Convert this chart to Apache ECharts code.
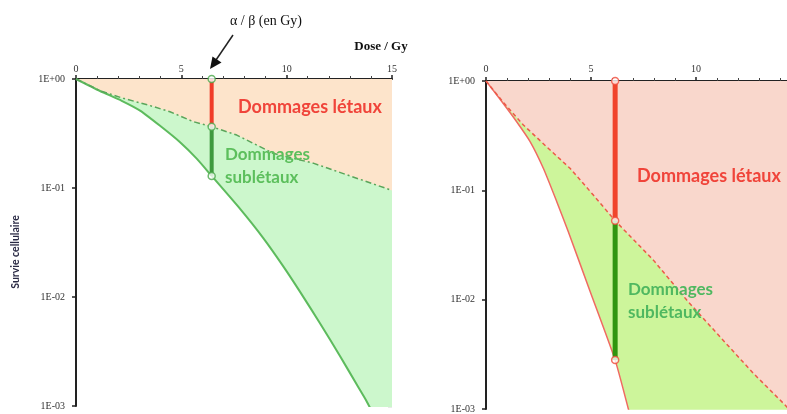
<!DOCTYPE html>
<html>
<head>
<meta charset="utf-8">
<script src="https://cdn.jsdelivr.net/npm/echarts@6/dist/echarts.min.js"></script>
<style>
  html, body { margin: 0; padding: 0; background: #fff; }
  #chart { width: 787px; height: 414px; }
</style>
</head>
<body>
<div id="chart"></div>
<script>
// Axis ticks
const xTickInterval = 5;
const yTickValues = [1, 0.1, 0.01, 0.001];
const yTickLabels = ['1E+00', '1E-01', '1E-02', '1E-03'];
const yMinorValues = [
  0.9, 0.8, 0.7, 0.6, 0.5, 0.4, 0.3, 0.2,
  0.09, 0.08, 0.07, 0.06, 0.05, 0.04, 0.03, 0.02,
  0.009, 0.008, 0.007, 0.006, 0.005, 0.004, 0.003, 0.002
];

// Left panel: linear (alpha) component and linear-quadratic survival
const doseA_alpha = [0, 1.14, 2.24, 3.43, 4.46, 5.57, 6.44, 7.63, 9.36, 11.26, 13.32, 15];
const survA_alpha = [1, 0.781, 0.665, 0.577, 0.501, 0.406, 0.365, 0.306, 0.208, 0.169, 0.123, 0.095];
const doseA_lq = [0, 1.14, 2.17, 3.04, 3.99, 4.94, 5.73, 6.44, 7.78, 8.89, 9.84, 10.63, 11.58, 12.53, 13.32, 13.80, 15];
const survA_lq = [1, 0.776, 0.631, 0.513, 0.372, 0.263, 0.186, 0.129, 0.0646, 0.0347, 0.0191, 0.0112, 0.00575, 0.00288, 0.00158, 0.0011, 0.0004];
// alpha/beta dose and the survival values marked on it
const doseA_ab = 6.44;
const survA_ab = [1, 0.365, 0.129];

// Right panel
const doseB_alpha = [0, 0.82, 1.78, 2.89, 4.00, 5.11, 6.15, 7.97, 9.56, 11.14, 12.73, 14.32, 15];
const survB_alpha = [1, 0.64, 0.396, 0.250, 0.159, 0.0906, 0.0527, 0.0230, 0.00991, 0.00458, 0.00212, 0.00105, 0.00074];
const doseB_lq = [0, 0.67, 1.46, 2.10, 2.73, 3.37, 3.92, 4.95, 6.15, 6.78, 7.5, 9, 15];
const survB_lq = [1, 0.68, 0.424, 0.279, 0.159, 0.0787, 0.0418, 0.012, 0.0028, 0.001, 0.0003, 0.00002, 0.00000001];
const doseB_ab = 6.15;
const survB_ab = [1, 0.0527, 0.0028];

const pairs = (xs, ys) => xs.map((x, i) => [x, ys[i]]);
const serif = '"Liberation Serif", "DejaVu Serif", serif';
const sans = 'Lato, "Open Sans", "Liberation Sans", sans-serif';

function xAxisFor(gridIndex, labelMargin) {
  return {
    type: 'value', gridIndex, position: 'top',
    min: 0, max: 15, interval: xTickInterval,
    axisLine: { lineStyle: { color: '#222', width: 2 } },
    axisTick: { length: 4, lineStyle: { color: '#222', width: 1.5 } },
    minorTick: { show: true, splitNumber: 5, length: 3, lineStyle: { color: '#444', width: 1 } },
    axisLabel: { margin: labelMargin, fontFamily: serif, fontSize: 10, color: '#333' },
    splitLine: { show: false }
  };
}
function yAxesFor(gridIndex) {
  return [{
    type: 'log', gridIndex, logBase: 10, min: 0.001, max: 1,
    axisLine: { lineStyle: { color: '#222', width: 2 } },
    axisTick: { length: 4, lineStyle: { color: '#222', width: 1.5 } },
    axisLabel: {
      margin: 11, fontFamily: serif, fontSize: 10, color: '#333',
      formatter: v => {
        const i = yTickValues.findIndex(t => Math.abs(Math.log10(t) - Math.log10(v)) < 1e-6);
        return i >= 0 ? yTickLabels[i] : '';
      }
    },
    splitLine: { show: false }
  }, {
    type: 'log', gridIndex, logBase: 10, min: 0.001, max: 1,
    axisLine: { show: false },
    axisTick: { inside: true, length: 4, customValues: yMinorValues.concat(yTickValues), lineStyle: { color: '#222', width: 1.2 } },
    axisLabel: { show: false },
    splitLine: { show: false }
  }];
}
const yAxes = yAxesFor(0).concat(yAxesFor(1));

function area(xi, yi, data, fill, line, smooth) {
  return {
    type: 'line', xAxisIndex: xi, yAxisIndex: yi, data, symbol: 'none',
    smooth, areaStyle: { origin: 'end', color: fill, opacity: 1 },
    lineStyle: line, silent: true, animation: false
  };
}
function bar(xi, yi, x, s0, s1, color, width) {
  return {
    type: 'line', xAxisIndex: xi, yAxisIndex: yi, data: [[x, s0], [x, s1]],
    symbol: 'none', lineStyle: { color, width }, silent: true, animation: false
  };
}
function dots(xi, yi, x, vals, border) {
  return {
    type: 'scatter', xAxisIndex: xi, yAxisIndex: yi, clip: false,
    data: vals.map(v => [x, v]), symbol: 'circle', symbolSize: 7,
    itemStyle: { color: '#fff', borderColor: border, borderWidth: 1.5 },
    silent: true, animation: false, z: 5
  };
}
function label(text, x, y, color, size, extra) {
  return Object.assign({
    type: 'text', z: 100,
    style: { text, x, y, textVerticalAlign: 'middle', font: 'bold ' + size + 'px ' + sans, fill: color }
  }, extra || {});
}

const option = {
  backgroundColor: '#fff',
  animation: false,
  grid: [
    { left: 76, top: 79, width: 316, height: 327, outerBoundsMode: 'none' },
    { left: 486, top: 81, width: 315, height: 328, outerBoundsMode: 'none' }
  ],
  xAxis: [xAxisFor(0, 5), xAxisFor(1, 7)],
  yAxis: yAxes,
  series: [
    // left panel
    area(0, 0, pairs(doseA_lq, survA_lq), '#ccf7cc', { color: '#5dbb5d', width: 2 }, 0.2),
    area(0, 0, pairs(doseA_alpha, survA_alpha), '#fde4cb', { color: '#5aa55a', width: 1.5, type: [6, 3, 2, 3] }, false),
    bar(0, 0, doseA_ab, survA_ab[0], survA_ab[1], '#f03c28', 4),
    bar(0, 0, doseA_ab, survA_ab[1], survA_ab[2], '#3e9a3e', 4),
    dots(0, 0, doseA_ab, survA_ab, '#4aa84a'),
    // right panel
    area(1, 2, pairs(doseB_lq, survB_lq), '#cdf59b', { color: '#f06a62', width: 1.5 }, 0.2),
    area(1, 2, pairs(doseB_alpha, survB_alpha), '#f9d7cc', { color: '#ec5a48', width: 1.5, type: [4, 3] }, false),
    bar(1, 2, doseB_ab, survB_ab[0], survB_ab[1], '#f0442c', 5),
    bar(1, 2, doseB_ab, survB_ab[1], survB_ab[2], '#2f950f', 5),
    dots(1, 2, doseB_ab, survB_ab, '#f04a3a')
  ],
  graphic: [
    { type: 'text', z: 100, style: { text: 'α / β (en Gy)', x: 266, y: 21, textAlign: 'center', textVerticalAlign: 'middle', font: '14px ' + serif, fill: '#111' } },
    { type: 'line', z: 100, shape: { x1: 233, y1: 35, x2: 216, y2: 60 }, style: { stroke: '#222', lineWidth: 1.5 } },
    { type: 'polygon', z: 100, shape: { points: [[210, 69], [221.5, 62.5], [212.5, 56.5]] }, style: { fill: '#111' } },
    { type: 'text', z: 100, style: { text: 'Dose / Gy', x: 381, y: 47, textAlign: 'center', textVerticalAlign: 'middle', font: 'bold 13px ' + serif, fill: '#111' } },
    { type: 'text', z: 100, rotation: Math.PI / 2, x: 16, y: 252, style: { text: 'Survie cellulaire', x: 0, y: 0, textAlign: 'center', textVerticalAlign: 'middle', font: 'bold 10.5px ' + sans, fill: '#2a2a44' } },
    label('Dommages létaux', 238, 107, '#f0443a', 18),
    label('Dommages', 225, 155, '#5cbf5c', 17),
    label('sublétaux', 225, 178, '#5cbf5c', 17),
    label('Dommages létaux', 637, 176, '#f0443a', 18),
    label('Dommages', 628, 290, '#4fb860', 17),
    label('sublétaux', 628, 313, '#4fb860', 17)
  ]
};

const chart = echarts.init(document.getElementById('chart'), null, { renderer: 'canvas' });
chart.setOption(option);
</script>
</body>
</html>
